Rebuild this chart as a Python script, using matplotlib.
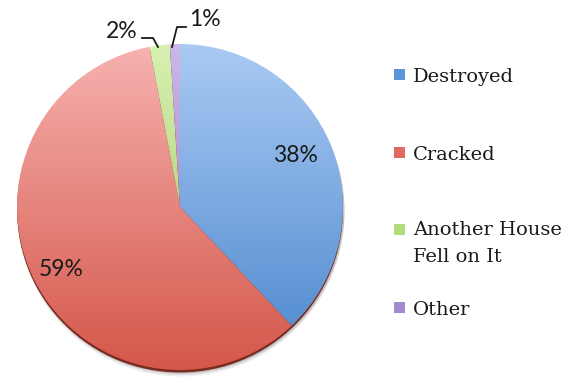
import matplotlib
matplotlib.use("Agg")
import matplotlib.pyplot as plt
import numpy as np
from matplotlib.patches import Circle, Rectangle
from matplotlib.colors import LinearSegmentedColormap

categories = ["Destroyed", "Cracked", "Another House\nFell on It", "Other"]
shares = [38, 59, 2, 1]
pct_labels = ["38%", "59%", "2%", "1%"]

# top (light) and bottom (dark) colour of each slice gradient
top_colors = ["#aacaf4", "#f7b2b0", "#d8f0b2", "#ccb8e8"]
bottom_colors = ["#4a86cc", "#d4574a", "#9cc45c", "#8a6cbd"]
legend_colors = ["#5b95d8", "#e06a62", "#b5db7e", "#a68ad0"]

W, H = 566, 377
cx, cy, r = 180, H - 207, 163

fig = plt.figure(figsize=(W / 100, H / 100), dpi=100)
ax = fig.add_axes([0, 0, 1, 1])

# soft shadow and dark rim under the pie
for k, a in [(6, 0.06), (4.5, 0.08), (3, 0.12)]:
    ax.add_patch(Circle((cx + 1, cy - k), r + 0.5, color="black", alpha=a, lw=0, zorder=0))
ax.add_patch(Circle((cx, cy - 2.5), r, color="#7a2a20", lw=0, zorder=0.5))

wedges, _ = ax.pie(shares, startangle=90, counterclock=False, center=(cx, cy),
                   radius=r, frame=True,
                   wedgeprops=dict(linewidth=0, edgecolor="none"))

grad = np.linspace(0, 1, 256).reshape(-1, 1)
for w, c0, c1 in zip(wedges, top_colors, bottom_colors):
    w.set_facecolor("none")
    cmap = LinearSegmentedColormap.from_list("g", [c0, c1])
    im = ax.imshow(grad, cmap=cmap, aspect="auto",
                   extent=(cx - r, cx + r, cy - r, cy + r), origin="upper", zorder=1)
    im.set_clip_path(w)

ax.set_xlim(0, W)
ax.set_ylim(0, H)
ax.set_aspect("equal")
ax.axis("off")

pct_font = dict(family="Lato", fontsize=16.5, color="#1a1a1a")
ax.text(295, H - 155, pct_labels[0], ha="center", va="center", zorder=3, **pct_font)
ax.text(61, H - 270, pct_labels[1], ha="center", va="center", zorder=3, **pct_font)
ax.text(122, H - 32, pct_labels[2], ha="center", va="center", zorder=3, **pct_font)
ax.text(205, H - 20, pct_labels[3], ha="center", va="center", zorder=3, **pct_font)

# leader lines for the small slices
ax.plot([142, 153, 158], [H - 38, H - 38, H - 47], color="#1a1a1a", lw=1.3, zorder=3)
ax.plot([186, 177, 172], [H - 27, H - 27, H - 47], color="#1a1a1a", lw=1.3, zorder=3)

# legend
legend_y = [77, 155, 232, 310]
for name, col, y in zip(categories, legend_colors, legend_y):
    ax.add_patch(Rectangle((394, H - y - 3), 11, 11, color=col, lw=0))
    if "\n" in name:
        ax.text(413, H - y + 11, name, ha="left", va="top",
                family="DejaVu Serif", fontsize=14, color="#1a1a1a",
                linespacing=1.65)
    else:
        ax.text(413, H - y, name, ha="left", va="center",
                family="DejaVu Serif", fontsize=14, color="#1a1a1a")

fig.savefig("out.png", dpi=100)
